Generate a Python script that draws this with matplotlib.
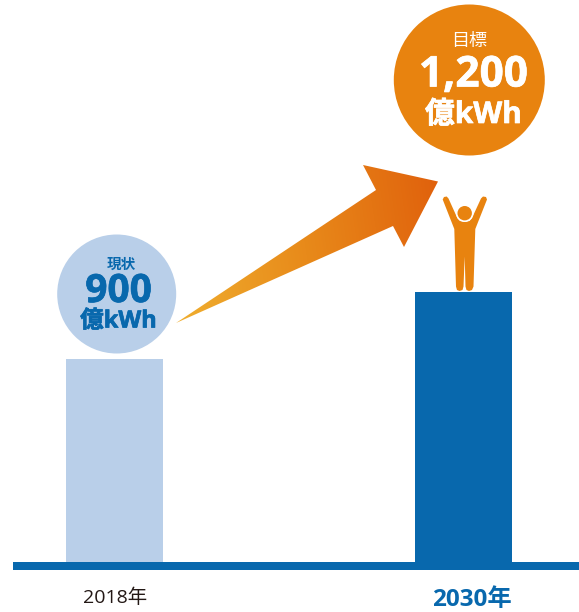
import numpy as np
import matplotlib
matplotlib.use("Agg")
import matplotlib.pyplot as plt
import matplotlib.patheffects as pe
from matplotlib.colors import LinearSegmentedColormap
from matplotlib.patches import Circle, Polygon, Rectangle

LATIN = ['Open Sans', 'Noto Sans CJK JP']
plt.rcParams['font.family'] = LATIN

W, H = 579, 612
BASE = 561.5      # pixel row of the bar baseline
PX_PER_UNIT = 0.2245

years = ['2018年', '2030年']
values = [900, 1200]
bubble_titles = ['現状', '目標']
bubble_numbers = ['900', '1,200']
unit = '億kWh'

LIGHT = '#B9CFE9'
BLUE = '#0868AD'
ORANGE = '#E8830F'
DARK = '#231815'

fig = plt.figure(figsize=(W / 100, H / 100), dpi=100)

# bars live on a value axis, aligned so that 0 sits on the baseline
ax = fig.add_axes([0, 0, 1, 1])
ax.set_xlim(0, W)
ax.set_ylim(-(H - BASE) / PX_PER_UNIT, BASE / PX_PER_UNIT)
ax.axis('off')
ax.bar([114.5, 463.5], values, width=97, color=[LIGHT, BLUE], linewidth=0)

# everything else is placed in pixels, y going down
px = fig.add_axes([0, 0, 1, 1])
px.set_xlim(0, W)
px.set_ylim(H, 0)
px.axis('off')
px.patch.set_alpha(0)

px.add_patch(Rectangle((13, BASE), W - 13, 8, color=BLUE, lw=0))

# bubbles
px.add_patch(Circle((116.7, 294), 59.5, color=LIGHT, lw=0))
px.add_patch(Circle((469.3, 80), 75.5, color=ORANGE, lw=0))

# arrow with a gradient along its length
arrow_pts = [(176, 323), (376, 190), (363, 165), (438, 181.5), (404, 247), (393, 226)]
arrow = Polygon(arrow_pts, closed=True, facecolor='none', edgecolor='none')
px.add_patch(arrow)
cmap = LinearSegmentedColormap.from_list('arrow', ['#F0B030', '#E88A1A', '#E0600C'])
gx, gy = np.meshgrid(np.linspace(0, 1, 300), np.linspace(0, 1, 200))
grad = px.imshow(gx * 0.92 + (1 - gy) * 0.08, extent=(170, 440, 330, 160), cmap=cmap,
                 aspect='auto', zorder=2, interpolation='bilinear')
grad.set_clip_path(arrow)
px.set_xlim(0, W)
px.set_ylim(H, 0)

# person on top of the tall bar
body = [(442.7, 199.5), (444, 197), (446.7, 196.5), (448.5, 198.5), (457.3, 218), (460, 221),
        (464.7, 222), (469.5, 221), (472, 218), (481, 198.5), (483, 196.5), (486, 197), (487, 199.5),
        (475.3, 229), (473.5, 286.5), (472, 290), (469, 291), (466.5, 290), (465.5, 286.5),
        (464.7, 256.5), (463.5, 286.5), (462.5, 290), (459.5, 291), (457, 290), (456, 286.5),
        (454.3, 229)]
px.add_patch(Polygon(body, closed=True, facecolor=ORANGE, edgecolor='none', zorder=3))
px.add_patch(Circle((464.7, 213.2), 8.8, color='white', lw=0, zorder=4))
px.add_patch(Circle((464.7, 213.2), 7.2, color=ORANGE, lw=0, zorder=5))

# the numbers are slightly heavier in the original
blue_heavy = [pe.withStroke(linewidth=0.5, foreground=BLUE)]
white_heavy = [pe.withStroke(linewidth=0.5, foreground='white')]

# bubble text
px.text(121, 265, bubble_titles[0], color=BLUE, fontsize=10.5, fontweight='bold', ha='center', va='center', zorder=6)
px.text(118.5, 291.5, bubble_numbers[0], color=BLUE, fontsize=28, fontweight='bold', ha='center', va='center',
        zorder=6, path_effects=blue_heavy)
px.text(118.5, 321.5, unit, color=BLUE, fontsize=17, fontweight='bold', ha='center', va='center',
        zorder=6, path_effects=blue_heavy)

px.text(469.5, 41, bubble_titles[1], color='white', fontsize=13, ha='center', va='center', zorder=6)
px.text(473.5, 76, bubble_numbers[1], color='white', fontsize=30.5, fontweight='bold', ha='center', va='center',
        zorder=6, path_effects=white_heavy)
px.text(473.5, 115, unit, color='white', fontsize=21.5, fontweight='bold', ha='center', va='center',
        zorder=6, path_effects=white_heavy)

# year labels
px.text(115, 598, years[0], color=DARK, fontsize=14, ha='center', va='center')
px.text(472, 600, years[1], color=BLUE, fontsize=17.5, fontweight='bold', ha='center', va='center')

fig.savefig('out.png', dpi=100)
